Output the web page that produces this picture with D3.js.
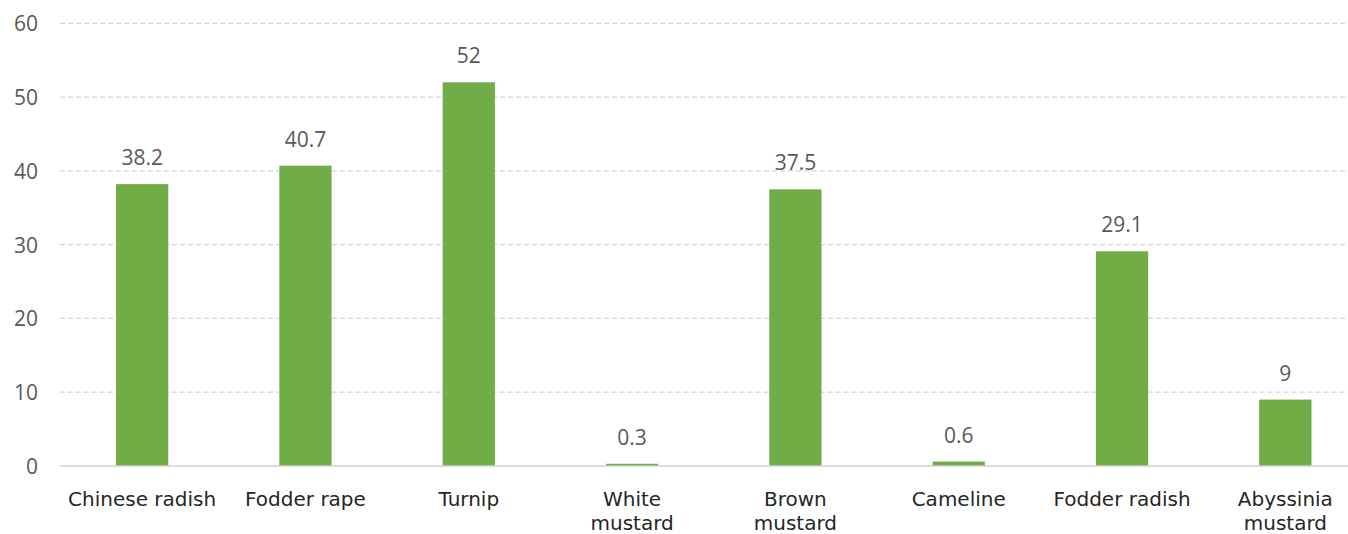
<!DOCTYPE html>
<html>
<head>
<meta charset="utf-8">
<script src="https://cdn.jsdelivr.net/npm/d3@7"></script>
<style>
  html, body { margin: 0; padding: 0; background: #fff; }
  svg { display: block; }
</style>
</head>
<body>
<script>
const categories = ["Chinese radish", "Fodder rape", "Turnip", "White mustard", "Brown mustard", "Cameline", "Fodder radish", "Abyssinia mustard"];
const categoryLines = [["Chinese radish"], ["Fodder rape"], ["Turnip"], ["White", "mustard"], ["Brown", "mustard"], ["Cameline"], ["Fodder radish"], ["Abyssinia", "mustard"]];
const values = [38.2, 40.7, 52, 0.3, 37.5, 0.6, 29.1, 9];
const valueLabels = ["38.2", "40.7", "52", "0.3", "37.5", "0.6", "29.1", "9"];
const yTicks = [0, 10, 20, 30, 40, 50, 60];

const W = 1348, H = 534;
const svg = d3.select("body").append("svg").attr("width", W).attr("height", H);

const x = d3.scaleBand().domain(categories).range([60.5, 1367]).paddingInner(0.68).paddingOuter(0.34);
const y = d3.scaleLinear().domain([0, 60]).range([466, 23.3]);

// gridlines
svg.append("g").selectAll("line").data(yTicks.filter(d => d > 0)).join("line")
  .attr("x1", 60).attr("x2", W)
  .attr("y1", d => y(d)).attr("y2", d => y(d))
  .attr("stroke", "#d4d4d4").attr("stroke-width", 1.3)
  .attr("stroke-dasharray", "5,3");

// y tick labels via axis
const yAxis = svg.append("g").attr("transform", "translate(38,0)")
  .call(d3.axisLeft(y).tickValues(yTicks).tickSize(0).tickPadding(0).tickFormat(d3.format("d")));
yAxis.select(".domain").remove();
yAxis.selectAll("text")
  .attr("font-family", "'Open Sans', sans-serif").attr("font-size", 21)
  .attr("fill", "#595959").attr("dy", "0.35em");

// bars
svg.append("g").selectAll("rect").data(values).join("rect")
  .attr("x", (d, i) => x(categories[i]))
  .attr("width", x.bandwidth())
  .attr("y", d => y(d))
  .attr("height", d => y(0) - y(d))
  .attr("fill", "#70AD47");

// baseline
svg.append("line").attr("x1", 60).attr("x2", W).attr("y1", y(0)).attr("y2", y(0))
  .attr("stroke", "#d0d0d0").attr("stroke-width", 1.6);

// value labels
svg.append("g").selectAll("text").data(values).join("text")
  .attr("x", (d, i) => x(categories[i]) + x.bandwidth() / 2)
  .attr("y", d => y(d) - 19)
  .attr("text-anchor", "middle")
  .attr("font-family", "'Open Sans', sans-serif").attr("font-size", 21)
  .attr("fill", "#595959")
  .text((d, i) => valueLabels[i]);

// x labels
const xl = svg.append("g").selectAll("text").data(categories).join("text")
  .attr("x", d => x(d) + x.bandwidth() / 2)
  .attr("y", 506)
  .attr("text-anchor", "middle")
  .attr("font-family", "'DejaVu Sans', Verdana, sans-serif").attr("font-size", 20)
  .attr("fill", "#262626");
xl.each(function(d, i) {
  const t = d3.select(this);
  categoryLines[i].forEach((ln, j) => {
    t.append("tspan").attr("x", x(d) + x.bandwidth() / 2).attr("dy", j === 0 ? 0 : 24).text(ln);
  });
});
</script>
</body>
</html>
